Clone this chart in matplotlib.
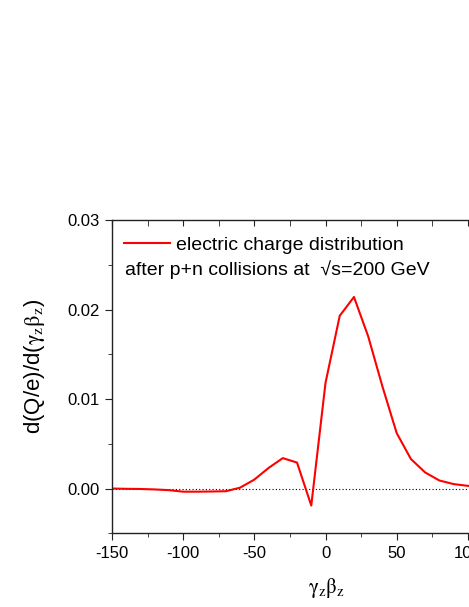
import matplotlib
matplotlib.use("Agg")
import matplotlib.pyplot as plt
from matplotlib.ticker import MultipleLocator

plt.rcParams['font.family'] = ['Liberation Sans', 'DejaVu Sans']
plt.rcParams['mathtext.fontset'] = 'stix'
plt.rcParams['axes.unicode_minus'] = False
plt.rcParams['font.size'] = 11.5

# gamma_z*beta_z and d(Q/e)/d(gamma_z beta_z)
gb = [-150, -140, -130, -120, -110, -100, -90, -80, -70, -60, -50, -40, -30, -20, -10,
      0, 10, 20, 30, 40, 50, 60, 70, 80, 90, 100, 110, 120, 130, 140, 150]
dq = [0.0, -0.00003, -0.00005, -0.0001, -0.00018, -0.00035, -0.00035, -0.00033, -0.0003,
      0.0001, 0.001, 0.0023, 0.0034, 0.0029, -0.0019,
      0.0118, 0.0193, 0.0214, 0.0170, 0.0114, 0.0062, 0.0033, 0.0018, 0.0009, 0.0005,
      0.0003, 0.0002, 0.0001, 0.0001, 0.0, 0.0]

fig = plt.figure(figsize=(4.69, 6.07), dpi=100)
# axes run past the right edge of the picture (cropped original)
ax = fig.add_axes([112/469, (607-533.3)/607, 427/469, (533.3-220)/607])

ax.axhline(0, color='black', linestyle=(0, (1, 2)), linewidth=0.8)
ax.plot(gb, dq, color='red', linewidth=1.5, label='electric charge distribution')

ax.set_xlim(-150, 150)
ax.set_ylim(-0.005, 0.03)
ax.xaxis.set_major_locator(MultipleLocator(50))
ax.xaxis.set_minor_locator(MultipleLocator(25))
ax.yaxis.set_major_locator(MultipleLocator(0.01))
ax.yaxis.set_minor_locator(MultipleLocator(0.005))
ax.yaxis.set_major_formatter(plt.FormatStrFormatter('%.2f'))

for s in ax.spines.values():
    s.set_color('#222222')
    s.set_linewidth(1.0)
ax.spines['right'].set_visible(False)

ax.tick_params(which='both', direction='out', color='#222222', labelsize=12, pad=4)
ax.tick_params(which='major', length=5)
ax.tick_params(which='minor', length=3)
ax.tick_params(axis='x', which='both', top=True, labeltop=False)
for t in ax.xaxis.get_major_ticks() + ax.xaxis.get_minor_ticks():
    t.tick2line.set_marker(3)  # top ticks pointing inward
    t.tick2line.set_markersize(4)

ax.set_xlabel(r'$\mathrm{\gamma_z\beta_z}$', fontsize=15)
ax.set_ylabel(r'd(Q/e)/d($\mathrm{\gamma_z\beta_z}$)', fontsize=16)
ax.xaxis.set_label_coords((326-112)/427, -0.136)
ax.yaxis.set_label_coords(-(112-47)/427, (533.3-366)/313.3)

leg = ax.legend(loc='upper left', frameon=False, fontsize=14, handlelength=2.4,
                handletextpad=0.3, bbox_to_anchor=(0.0, 0.985), borderaxespad=0.2)
ax.text(13/427, (533.3-270)/313.3, 'after p+n collisions at  \u221as=200 GeV',
        transform=ax.transAxes, fontsize=14, va='center', ha='left')

fig.savefig('out.png', dpi=100)
